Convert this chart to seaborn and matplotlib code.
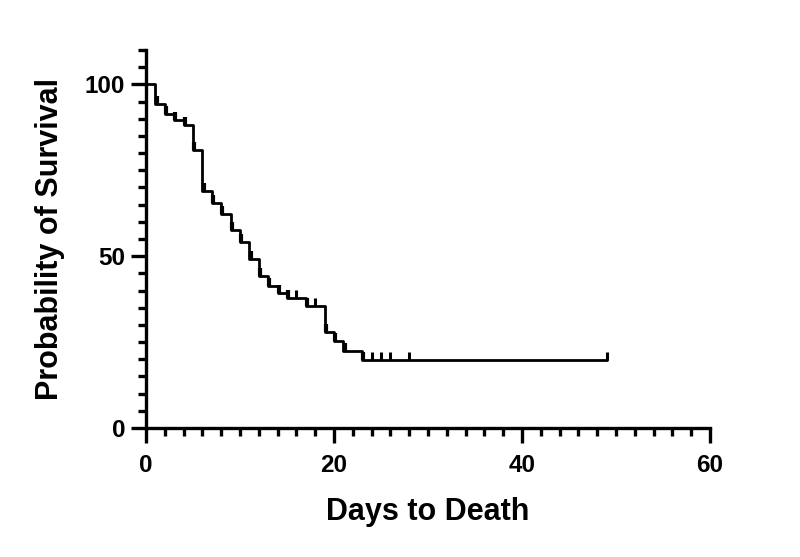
import matplotlib
matplotlib.use("Agg")
import matplotlib.pyplot as plt
import matplotlib.transforms as mtransforms
import seaborn as sns
import pandas as pd

# Kaplan-Meier step points (day of event, survival % after the event)
event_days = [0, 1, 2, 3, 4, 5, 6, 7, 8, 9, 10, 11, 12, 13, 14, 15, 17, 19, 20, 21, 23]
survival = [100, 94.2, 91.3, 89.5, 88.3, 81.0, 69.0, 65.5, 62.2, 57.5, 54.2, 49.1,
            44.2, 41.3, 39.4, 37.9, 35.5, 28.0, 25.2, 22.5, 19.8]
last_day = 49

# censored observations (day, survival %)
censor_days = [16, 18, 24, 25, 26, 28, 49]
censor_surv = [37.9, 35.5, 19.8, 19.8, 19.8, 19.8, 19.8]

x_ticks = [0, 20, 40, 60]
y_ticks = [0, 50, 100]

sns.set_theme(style="ticks")
plt.rcParams['font.family'] = ['Liberation Sans', 'DejaVu Sans']
plt.rcParams['font.weight'] = 'bold'

df = pd.DataFrame({"day": event_days + [last_day],
                   "surv": survival + [survival[-1]]})

fig = plt.figure(figsize=(8, 5.57), dpi=100)
ax = fig.add_axes([0.1825, 0.2316, 0.705, 0.6786])

sns.lineplot(data=df, x="day", y="surv", drawstyle="steps-post", estimator=None,
             color="black", linewidth=2.0, ax=ax, clip_on=False)

# small corner marks at each step (as in the reference rendering)
off = mtransforms.offset_copy(ax.transData, fig=fig, x=1.2, y=0, units='dots')
ax.plot(event_days[1:], survival[1:], linestyle="none", marker=2, markersize=5.5,
        markeredgewidth=3.0, color="black", transform=off, clip_on=False)

# censor ticks
ax.plot(censor_days, censor_surv, linestyle="none", marker=2, markersize=5.5,
        markeredgewidth=2.2, color="black", clip_on=False)

ax.set_xlim(0, 60)
ax.set_ylim(0, 110)
ax.set_xticks(x_ticks)
ax.set_yticks(y_ticks)
ax.set_xticks(range(0, 61, 2), minor=True)
ax.set_yticks(range(0, 111, 5), minor=True)

for side in ["top", "right"]:
    ax.spines[side].set_visible(False)
for side in ["left", "bottom"]:
    ax.spines[side].set_linewidth(2.4)
    ax.spines[side].set_color("black")

ax.tick_params(which="major", length=11, width=2.4, color="black",
               labelsize=17.5, pad=4)
ax.tick_params(which="minor", length=6, width=2.4, color="black")
ax.tick_params(axis="x", which="major", pad=8)
for lab in ax.get_xticklabels() + ax.get_yticklabels():
    lab.set_fontweight("bold")
    lab.set_color("black")

ax.set_xlabel("Days to Death", fontsize=22, fontweight="bold", color="black", labelpad=14)
ax.set_ylabel("Probability of Survival", fontsize=22, fontweight="bold", color="black", labelpad=14)
ax.grid(False)

fig.savefig("out.png", dpi=100)
